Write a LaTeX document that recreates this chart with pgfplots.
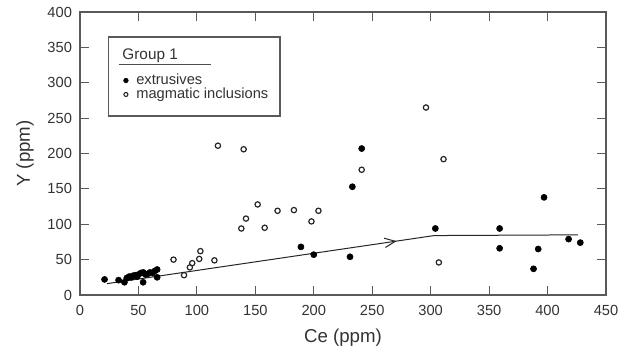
\documentclass[border=0pt]{standalone}
\usepackage{fontspec}
\setmainfont{Liberation Sans}
\usepackage{pgfplots}
\pgfplotsset{compat=1.18}
\usetikzlibrary{arrows.meta,decorations.markings,calc}

\begin{document}
\begin{tikzpicture}
\begin{axis}[name=ax, scale only axis, width=394.5pt, height=212.25pt,
  xmin=0, xmax=450, ymin=0, ymax=400,
  xtick={0,50,...,450}, ytick={0,50,...,400},
  tick align=inside, major tick length=6.5pt,
  axis line style={black!65, line width=1pt},
  tick style={black!65, line width=0.8pt},
  /pgf/number format/assume math mode=true,
  ticklabel style={font=\fontsize{11}{13}\selectfont, text=black!80},
  xticklabel style={yshift=-4pt},
  yticklabel style={xshift=-2.5pt},
  xlabel={Ce (ppm)}, ylabel={Y (ppm)},
  label style={font=\fontsize{14}{16}\selectfont, text=black!80},
  xlabel style={at={(axis description cs:0.5,-0.152)}, anchor=center},
  ylabel style={at={(axis description cs:-0.1046,0.5)}, anchor=center},
  legend style={at={(axis cs:34.2,313.4)}, anchor=north west,
    draw=none, fill=none,
    font=\fontsize{11}{13}\selectfont, text=black!80,
    inner xsep=0pt, inner ysep=0pt, row sep=0pt, column sep=3pt,
    cells={anchor=west}, nodes={inner sep=0.5pt}},
]
% legend frame, title and its underline
\draw[black!65, line width=0.8pt, fill=white] (axis cs:24.7,364.7) rectangle (axis cs:171.1,253);
\node[anchor=base west, inner sep=0pt, font=\fontsize{11.5}{13}\selectfont, text=black!80] at (axis cs:36.1,332.2) {Group 1};
\draw[black!70, line width=0.8pt] (axis cs:33,326) -- (axis cs:111.7,326);
% trend line with arrow
\addplot[black!85, line width=0.75pt, postaction={decorate},
  decoration={markings, mark=at position 0.617 with {\arrow{Straight Barb[length=8pt,width=7pt,line width=0.75pt]}}},
  forget plot]
  coordinates {(23,16) (303,84) (426,85)};
% extrusives
\addplot[only marks, mark=*, mark size=2.3pt, black, forget plot]
  coordinates {
  (21,22) (33,21) (38,18) (40,24) (42,26) (44,25) (45,27) (47,28) (49,26)
  (50,29) (52,31) (54,32) (54,18) (56,29) (58,30) (60,32) (62,31) (64,34)
  (66,36) (66,25) (189,68) (200,57) (231,54) (233,153) (241,207) (304,94)
  (359,94) (359,66) (388,37) (392,65) (397,138) (418,79) (428,74)};
% magmatic inclusions
\addplot[only marks, mark=o, mark size=2pt, line width=0.9pt, black!85, forget plot]
  coordinates {
  (80,50) (89,28) (94,39) (96,45) (102,51) (103,62) (115,49) (118,211)
  (140,206) (138,94) (142,108) (152,128) (158,95) (169,119) (183,120)
  (198,104) (204,119) (241,177) (296,265) (307,46) (311,192)};
% legend entries
\addlegendimage{legend image code/.code={\path[draw=none] (0,0) -- (0.3cm,0); \path[draw=none] plot[only marks, mark=*, mark size=1.75pt, mark options={fill=black, draw=black}] coordinates {(0.15cm,0cm)};}}
\addlegendentry{extrusives}
\addlegendimage{legend image code/.code={\path[draw=none] (0,0) -- (0.3cm,0); \path[draw=none] plot[only marks, mark=o, mark size=1.5pt, mark options={draw=black!85, line width=0.8pt}] coordinates {(0.15cm,0cm)};}}
\addlegendentry{magmatic inclusions}
\end{axis}
\pgfresetboundingbox
\path ($(ax.south west)+(-60pt,-45.75pt)$) rectangle ($(ax.north east)+(14.25pt,9pt)$);
\end{tikzpicture}
\end{document}
